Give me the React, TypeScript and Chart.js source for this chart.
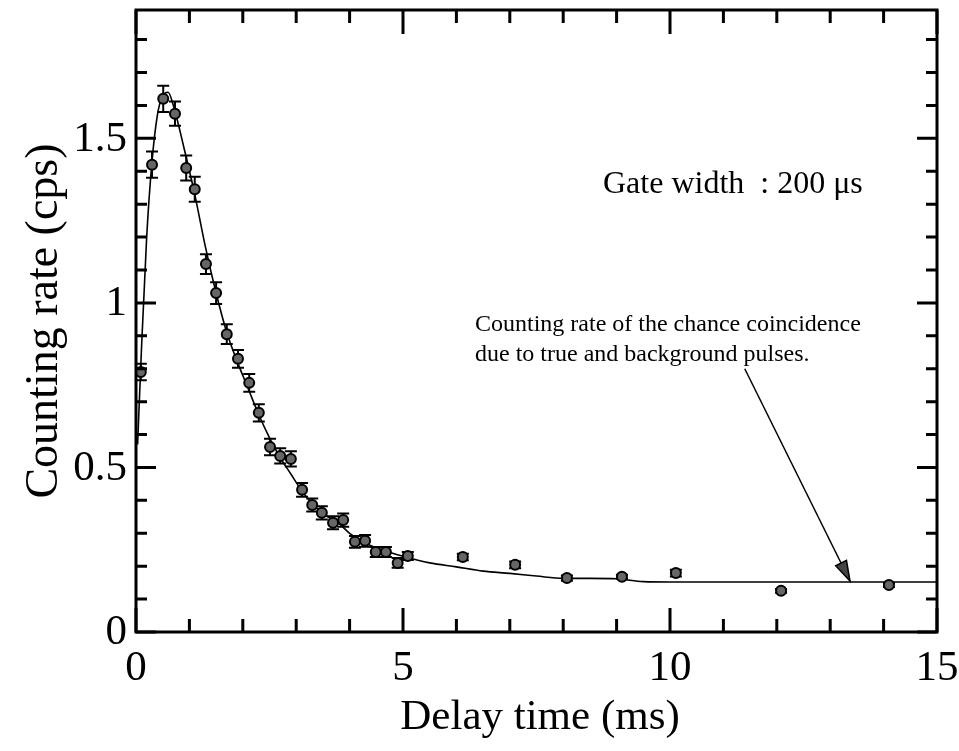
import React, { useEffect, useRef } from "react";
import { Chart, registerables } from "chart.js";

Chart.register(...registerables);

// Measured points
const delayTime = [0.09, 0.30, 0.51, 0.73, 0.94, 1.10, 1.31, 1.50, 1.70, 1.91, 2.12, 2.30, 2.51, 2.70, 2.90, 3.11, 3.30, 3.48, 3.69, 3.88, 4.10, 4.29, 4.49, 4.68, 4.90, 5.09, 6.12, 7.10, 8.07, 9.10, 10.11, 12.08, 14.10];
const countRate = [0.79, 1.42, 1.62, 1.575, 1.41, 1.345, 1.118, 1.03, 0.905, 0.83, 0.757, 0.666, 0.562, 0.535, 0.526, 0.432, 0.386, 0.362, 0.332, 0.34, 0.274, 0.277, 0.243, 0.243, 0.21, 0.231, 0.228, 0.204, 0.164, 0.168, 0.179, 0.125, 0.143];
const countErr = [0.025, 0.04, 0.04, 0.037, 0.038, 0.038, 0.03, 0.033, 0.03, 0.027, 0.027, 0.026, 0.025, 0.023, 0.023, 0.021, 0.02, 0.02, 0.02, 0.02, 0.018, 0.018, 0.015, 0.015, 0.015, 0.012, 0.01, 0.01, 0.008, 0.006, 0.01, 0.006, 0.006];

// Fitted curve
const fitTime = [0.03, 0.1, 0.2, 0.3, 0.4, 0.5, 0.6, 0.7, 0.9, 1.1, 1.3, 1.5, 1.7, 1.9, 2.1, 2.3, 2.5, 2.7, 2.9, 3.1, 3.3, 3.5, 3.8, 4.0, 4.3, 4.6, 5.0, 5.5, 6.0, 6.5, 7.0, 7.5, 8.0, 8.5, 9.0, 9.5, 10.0, 12.0, 15.0];
const fitRate = [0.57, 0.85, 1.2, 1.43, 1.57, 1.63, 1.64, 1.6, 1.47, 1.33, 1.17, 1.03, 0.91, 0.82, 0.74, 0.66, 0.59, 0.53, 0.48, 0.43, 0.39, 0.36, 0.33, 0.30, 0.27, 0.25, 0.23, 0.21, 0.198, 0.185, 0.178, 0.17, 0.163, 0.163, 0.162, 0.153, 0.152, 0.152, 0.152];

const xTickValues = [0, 5, 10, 15];
const xTickLabels = ["0", "5", "10", "15"];
const yTickValues = [0, 0.5, 1, 1.5];
const yTickLabels = ["0", "0.5", "1", "1.5"];
const xMinorValues = [1, 2, 3, 4, 6, 7, 8, 9, 11, 12, 13, 14];
const yMinorValues = [0.1, 0.2, 0.3, 0.4, 0.6, 0.7, 0.8, 0.9, 1.1, 1.2, 1.3, 1.4, 1.6, 1.7, 1.8];
const xMin = 0, xMax = 15, yMin = 0, yMax = 1.89;

const xLabel = "Delay time (ms)";
const yLabel = "Counting rate (cps)";
const gateNote = "Gate width  : 200 \u03bcs";
const arrowNote = ["Counting rate of the chance coincidence", "due to true and background pulses."];
const arrowFrom = [11.4, 0.8];
const arrowTo = [13.37, 0.155];

const SERIF = "'Liberation Serif', 'Times New Roman', serif";

const decorPlugin = {
  id: "decor",
  beforeDatasetsDraw(chart: any) {
    const { ctx, scales } = chart;
    const xs = scales.x, ys = scales.y;
    ctx.save();
    ctx.strokeStyle = "#000";
    ctx.lineWidth = 2;
    for (let i = 0; i < delayTime.length; i++) {
      const px = xs.getPixelForValue(delayTime[i]);
      const top = ys.getPixelForValue(countRate[i] + countErr[i]);
      const bot = ys.getPixelForValue(countRate[i] - countErr[i]);
      ctx.beginPath();
      ctx.moveTo(px, top); ctx.lineTo(px, bot);
      ctx.moveTo(px - 6, top); ctx.lineTo(px + 6, top);
      ctx.moveTo(px - 6, bot); ctx.lineTo(px + 6, bot);
      ctx.stroke();
    }
    ctx.restore();
  },
  afterDraw(chart: any) {
    const { ctx, chartArea: a, scales } = chart;
    const xs = scales.x, ys = scales.y;
    ctx.save();
    ctx.strokeStyle = "#000";
    ctx.lineWidth = 3;
    ctx.strokeRect(a.left, a.top, a.right - a.left, a.bottom - a.top);
    ctx.beginPath();
    const xt = (v: number, len: number) => {
      const p = xs.getPixelForValue(v);
      ctx.moveTo(p, a.bottom); ctx.lineTo(p, a.bottom - len);
      ctx.moveTo(p, a.top); ctx.lineTo(p, a.top + len);
    };
    const yt = (v: number, len: number) => {
      const p = ys.getPixelForValue(v);
      ctx.moveTo(a.left, p); ctx.lineTo(a.left + len, p);
      ctx.moveTo(a.right, p); ctx.lineTo(a.right - len, p);
    };
    xTickValues.forEach((v) => xt(v, 24));
    xMinorValues.forEach((v) => xt(v, 13));
    yTickValues.forEach((v) => yt(v, 20));
    yMinorValues.forEach((v) => yt(v, 11));
    ctx.stroke();

    // tick labels
    ctx.fillStyle = "#000";
    ctx.font = `43px ${SERIF}`;
    ctx.textAlign = "center";
    ctx.textBaseline = "middle";
    xTickValues.forEach((v, i) => ctx.fillText(xTickLabels[i], xs.getPixelForValue(v), a.bottom + 37));
    ctx.textAlign = "right";
    yTickValues.forEach((v, i) => ctx.fillText(yTickLabels[i], a.left - 9, ys.getPixelForValue(v) + 1));

    // arrow
    const x1 = xs.getPixelForValue(arrowFrom[0]), y1 = ys.getPixelForValue(arrowFrom[1]);
    const x2 = xs.getPixelForValue(arrowTo[0]), y2 = ys.getPixelForValue(arrowTo[1]);
    ctx.lineWidth = 1.5;
    ctx.beginPath();
    ctx.moveTo(x1, y1); ctx.lineTo(x2, y2);
    ctx.stroke();
    const ang = Math.atan2(y2 - y1, x2 - x1);
    const hl = 20, hw = 6;
    ctx.beginPath();
    ctx.moveTo(x2, y2);
    ctx.lineTo(x2 - hl * Math.cos(ang) + hw * Math.sin(ang), y2 - hl * Math.sin(ang) - hw * Math.cos(ang));
    ctx.lineTo(x2 - hl * Math.cos(ang) - hw * Math.sin(ang), y2 - hl * Math.sin(ang) + hw * Math.cos(ang));
    ctx.closePath();
    ctx.fillStyle = "#444";
    ctx.fill();
    ctx.stroke();

    // notes
    ctx.fillStyle = "#000";
    ctx.textBaseline = "alphabetic";
    ctx.textAlign = "left";
    ctx.font = `32px ${SERIF}`;
    ctx.fillText(gateNote, 603, 193);
    ctx.font = `24px ${SERIF}`;
    ctx.fillText(arrowNote[0], 475, 331);
    ctx.fillText(arrowNote[1], 475, 361);

    // axis titles
    ctx.textAlign = "center";
    ctx.textBaseline = "middle";
    ctx.font = `43px ${SERIF}`;
    ctx.fillText(xLabel, 540, 718);
    ctx.translate(45, 321);
    ctx.rotate(-Math.PI / 2);
    ctx.font = `46px ${SERIF}`;
    ctx.fillText(yLabel, 0, 0);
    ctx.restore();
  },
};

export default function App() {
  const ref = useRef<HTMLCanvasElement>(null);
  useEffect(() => {
    const canvas = ref.current;
    if (!canvas) return;
    const chart = new Chart(canvas, {
      type: "scatter",
      data: {
        datasets: [
          {
            type: "line",
            label: "fit",
            data: fitTime.map((t, i) => ({ x: t, y: fitRate[i] })),
            borderColor: "#000",
            borderWidth: 1.6,
            pointRadius: 0,
            fill: false,
            cubicInterpolationMode: "monotone",
            order: 2,
          } as any,
          {
            label: "data",
            data: delayTime.map((t, i) => ({ x: t, y: countRate[i] })),
            pointRadius: 5,
            pointBackgroundColor: "#666",
            pointBorderColor: "#000",
            pointBorderWidth: 2,
            order: 1,
          },
        ],
      },
      options: {
        animation: false,
        responsive: false,
        devicePixelRatio: 1,
        layout: { padding: { top: 10, right: 22, left: 0, bottom: 0 } },
        plugins: { legend: { display: false }, tooltip: { enabled: false } },
        scales: {
          x: {
            type: "linear",
            min: xMin,
            max: xMax,
            grid: { display: false, drawTicks: false },
            border: { display: false },
            afterFit: (s: any) => { s.height = 119; },
            ticks: { display: false },
          },
          y: {
            type: "linear",
            min: yMin,
            max: yMax,
            grid: { display: false, drawTicks: false },
            border: { display: false },
            afterFit: (s: any) => { s.width = 136; },
            ticks: { display: false },
          },
        },
      },
      plugins: [decorPlugin],
    });
    return () => chart.destroy();
  }, []);
  return (
    <div style={{ position: "fixed", left: 0, top: 0, width: 959, height: 751, background: "#fff" }}>
      <canvas ref={ref} width={959} height={751} style={{ width: 959, height: 751 }} />
    </div>
  );
}
